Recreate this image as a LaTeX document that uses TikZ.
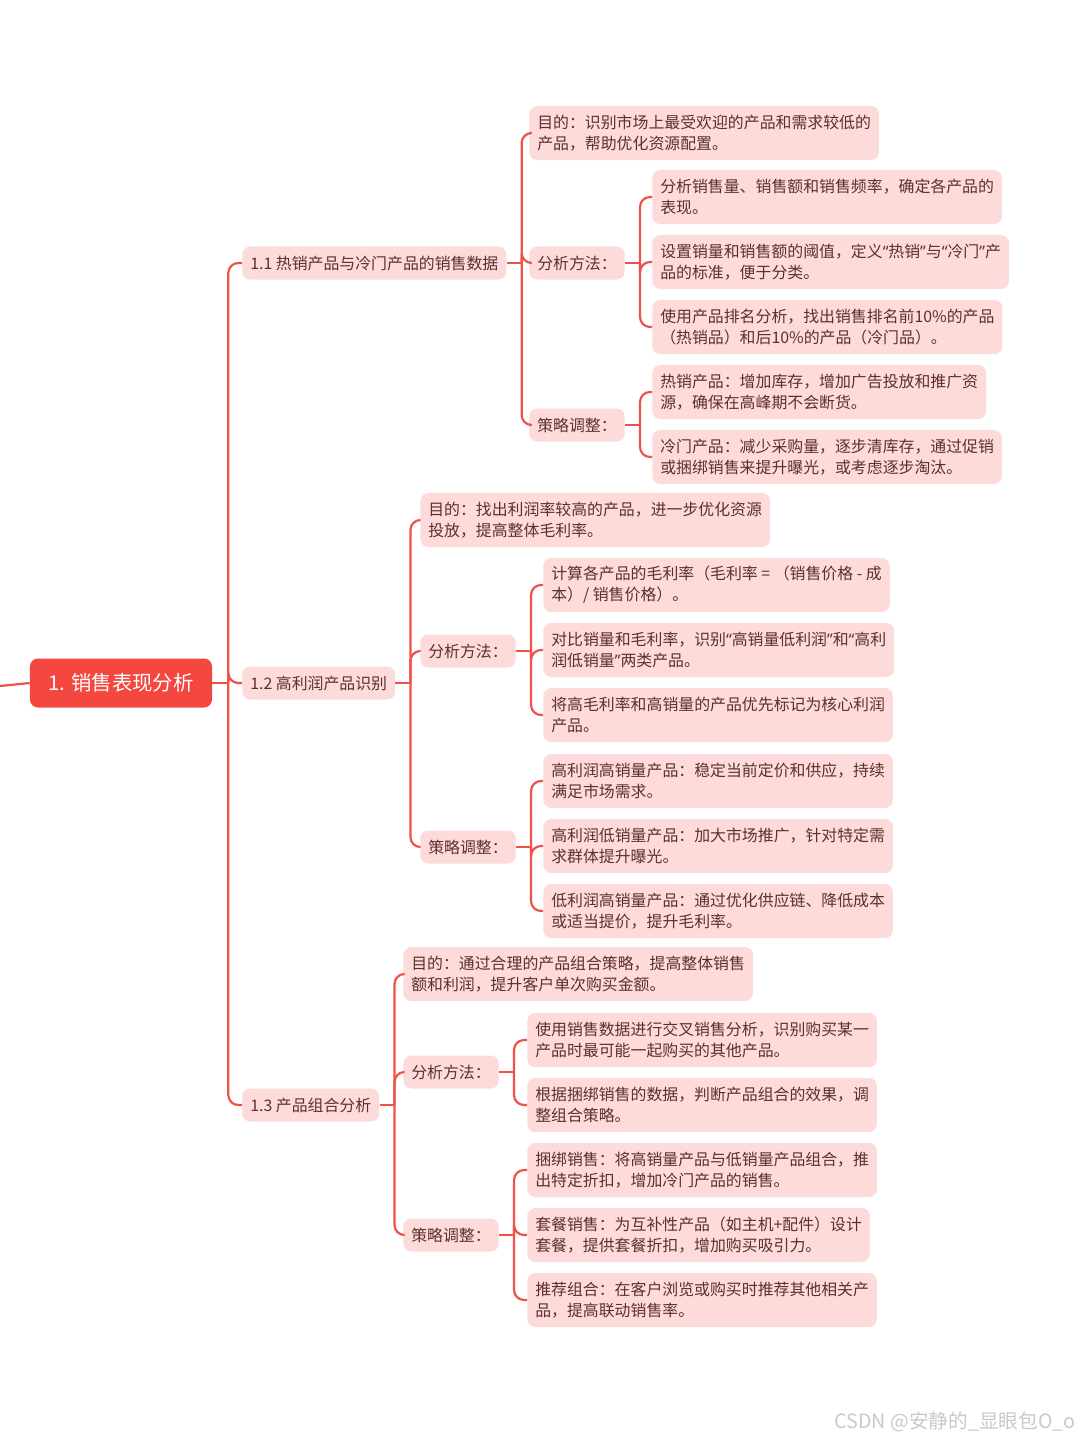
\documentclass[tikz,border=0pt]{standalone}
\usepackage{fontspec}
\setmainfont{Noto Sans CJK SC}
\newfontfamily\latinfont{Noto Sans}
\usepackage{xcolor}
\definecolor{rootred}{HTML}{F4473F}
\definecolor{linkred}{HTML}{EE5249}
\definecolor{palered}{HTML}{FCDBDA}
\definecolor{inkbrown}{HTML}{5E2F2B}
\definecolor{markgray}{HTML}{C9C9C9}
\usetikzlibrary{positioning,calc}
\tikzset{
  root/.style  ={fill=rootred,text=white,rounded corners=2mm,
                 font=\fontsize{14.5}{17}\selectfont,minimum width=45.5mm,
                 minimum height=12.25mm,inner sep=0pt},
  topic/.style ={fill=palered,text=inkbrown,rounded corners=2mm,
                 font=\fontsize{11.3}{15}\selectfont,minimum height=8.25mm,
                 inner xsep=2mm,inner ysep=0pt,anchor=west},
  leaf/.style  ={topic,align=left,minimum height=13.5mm},
  link/.style  ={draw=linkred,line width=0.55mm,rounded corners=2.5mm},
  wmark/.style ={text=markgray,font=\fontsize{14}{16}\selectfont,anchor=east,inner sep=0pt},
}
\newcommand{\qq}[1]{{\latinfont“}#1{\latinfont”}}

\begin{document}
\begin{tikzpicture}[x=0.025cm,y=-0.025cm]
\useasboundingbox (0,0) rectangle (1080,1440);
% root and main branches
\node[root] (root) at (121,683) {1. 销售表现分析};
\node[topic] (t1) at (242,263) {1.1 热销产品与冷门产品的销售数据};
\node[topic] (t2) at (242,683) {1.2 高利润产品识别};
\node[topic] (t3) at (242,1105) {1.3 产品组合分析};
% branch 1.1
\node[leaf] (goal1) at (529,133) {目的：识别市场上最受欢迎的产品和需求较低的\\产品，帮助优化资源配置。};
\node[topic] (meth1) at (529,263) {分析方法：};
\node[topic] (strat1) at (529,425) {策略调整：};
\node[leaf] (meth1a) at (652,197) {分析销售量、销售额和销售频率，确定各产品的\\表现。};
\node[leaf] (meth1b) at (652,262) {设置销量和销售额的阈值，定义\qq{热销}与\qq{冷门}产\\品的标准，便于分类。};
\node[leaf] (meth1c) at (652,327) {使用产品排名分析，找出销售排名前10\%的产品\\（热销品）和后10\%的产品（冷门品）。};
\node[leaf] (strat1a) at (652,392) {热销产品：增加库存，增加广告投放和推广资\\源，确保在高峰期不会断货。};
\node[leaf] (strat1b) at (652,457) {冷门产品：减少采购量，逐步清库存，通过促销\\或捆绑销售来提升曝光，或考虑逐步淘汰。};
% branch 1.2
\node[leaf] (goal2) at (420,520) {目的：找出利润率较高的产品，进一步优化资源\\投放，提高整体毛利率。};
\node[topic] (meth2) at (420,651) {分析方法：};
\node[topic] (strat2) at (420,847) {策略调整：};
\node[leaf] (meth2a) at (543,585) {计算各产品的毛利率（毛利率 = （销售价格 - 成\\本）/ 销售价格）。};
\node[leaf] (meth2b) at (543,650) {对比销量和毛利率，识别\qq{高销量低利润}和\qq{高利\\润低销量}两类产品。};
\node[leaf] (meth2c) at (543,715) {将高毛利率和高销量的产品优先标记为核心利润\\产品。};
\node[leaf] (strat2a) at (543,781) {高利润高销量产品：稳定当前定价和供应，持续\\满足市场需求。};
\node[leaf] (strat2b) at (543,846) {高利润低销量产品：加大市场推广，针对特定需\\求群体提升曝光。};
\node[leaf] (strat2c) at (543,911) {低利润高销量产品：通过优化供应链、降低成本\\或适当提价，提升毛利率。};
% branch 1.3
\node[leaf] (goal3) at (403,974) {目的：通过合理的产品组合策略，提高整体销售\\额和利润，提升客户单次购买金额。};
\node[topic] (meth3) at (403,1072) {分析方法：};
\node[topic] (strat3) at (403,1235) {策略调整：};
\node[leaf] (meth3a) at (527,1040) {使用销售数据进行交叉销售分析，识别购买某一\\产品时最可能一起购买的其他产品。};
\node[leaf] (meth3b) at (527,1105) {根据捆绑销售的数据，判断产品组合的效果，调\\整组合策略。};
\node[leaf] (strat3a) at (527,1170) {捆绑销售：将高销量产品与低销量产品组合，推\\出特定折扣，增加冷门产品的销售。};
\node[leaf] (strat3b) at (527,1235) {套餐销售：为互补性产品（如主机+配件）设计\\套餐，提供套餐折扣，增加购买吸引力。};
\node[leaf] (strat3c) at (527,1300) {推荐组合：在客户浏览或购买时推荐其他相关产\\品，提高联动销售率。};
% watermark
\node[wmark] (wm) at (1076,1422) {CSDN @安静的\_显眼包O\_o};
% connectors
\coordinate (in) at (0,686);
\draw[link] (in) -- (root.west);
\coordinate (j0) at ([xshift=4mm]root.east);
\draw[link] (root.east) -- (j0);
\foreach \c in {t1,t2,t3} \draw[link] (j0) |- (\c.west);
\coordinate (j1) at ([xshift=3.75mm]t1.east);
\draw[link] (t1.east) -- (j1);
\foreach \c in {goal1,meth1,strat1} \draw[link] (j1) |- (\c.west);
\coordinate (j11) at ([xshift=3.75mm]meth1.east);
\draw[link] (meth1.east) -- (j11);
\foreach \c in {meth1a,meth1b,meth1c} \draw[link] (j11) |- (\c.west);
\coordinate (j12) at ([xshift=3.75mm]strat1.east);
\draw[link] (strat1.east) -- (j12);
\foreach \c in {strat1a,strat1b} \draw[link] (j12) |- (\c.west);
\coordinate (j2) at ([xshift=3.75mm]t2.east);
\draw[link] (t2.east) -- (j2);
\foreach \c in {goal2,meth2,strat2} \draw[link] (j2) |- (\c.west);
\coordinate (j21) at ([xshift=3.75mm]meth2.east);
\draw[link] (meth2.east) -- (j21);
\foreach \c in {meth2a,meth2b,meth2c} \draw[link] (j21) |- (\c.west);
\coordinate (j22) at ([xshift=3.75mm]strat2.east);
\draw[link] (strat2.east) -- (j22);
\foreach \c in {strat2a,strat2b,strat2c} \draw[link] (j22) |- (\c.west);
\coordinate (j3) at ([xshift=3.75mm]t3.east);
\draw[link] (t3.east) -- (j3);
\foreach \c in {goal3,meth3,strat3} \draw[link] (j3) |- (\c.west);
\coordinate (j31) at ([xshift=3.75mm]meth3.east);
\draw[link] (meth3.east) -- (j31);
\foreach \c in {meth3a,meth3b} \draw[link] (j31) |- (\c.west);
\coordinate (j32) at ([xshift=3.75mm]strat3.east);
\draw[link] (strat3.east) -- (j32);
\foreach \c in {strat3a,strat3b,strat3c} \draw[link] (j32) |- (\c.west);
\end{tikzpicture}
\end{document}
